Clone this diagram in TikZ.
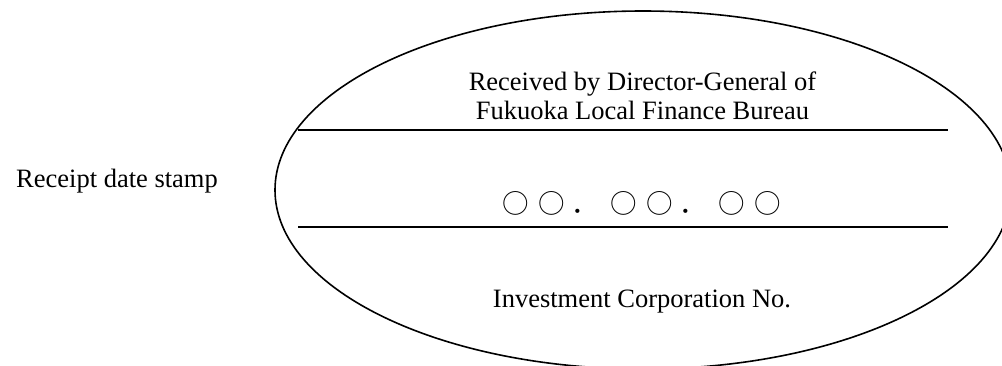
\documentclass[tikz,border=0pt]{standalone}
\usepackage{fontspec}
\setmainfont{Liberation Serif}
\newfontfamily\jpfont{Noto Sans CJK JP}
\newcommand{\cel}[1]{\makebox[36pt]{#1}}
\newcommand{\dotcel}{\makebox[36pt][l]{\hspace{2pt}．}}
\tikzset{
  txt/.style={inner sep=0pt, anchor=base, font=\fontsize{26.5}{30}\selectfont},
  rule/.style={line width=2.2pt},
}

\begin{document}
\begin{tikzpicture}[x=1pt,y=-1pt]
\useasboundingbox (0,0) rectangle (1002,365);
\draw [line width=1.6pt] (643,190) ellipse [x radius=368, y radius=179];
\node [txt] (stamp) at (117,187) {Receipt date stamp};
\node [txt] (recv) at (642.5,90) {Received by Director-General of};
\node [txt] (bureau) at (642.5,119) {Fukuoka Local Finance Bureau};
\node [txt] (date) at (641.5,213) {\jpfont\fontsize{26.5}{26.5}\selectfont
  \cel{○}\cel{○}\dotcel\cel{○}\cel{○}\dotcel\cel{○}\cel{○}};
\node [txt] (corp) at (642,307) {Investment Corporation No.};
\coordinate (a1) at (298,130); \coordinate (b1) at (948,130);
\coordinate (a2) at (298,227); \coordinate (b2) at (948,227);
\draw [rule] (a1) -- (b1); \draw [rule] (a2) -- (b2);
\end{tikzpicture}
\end{document}
